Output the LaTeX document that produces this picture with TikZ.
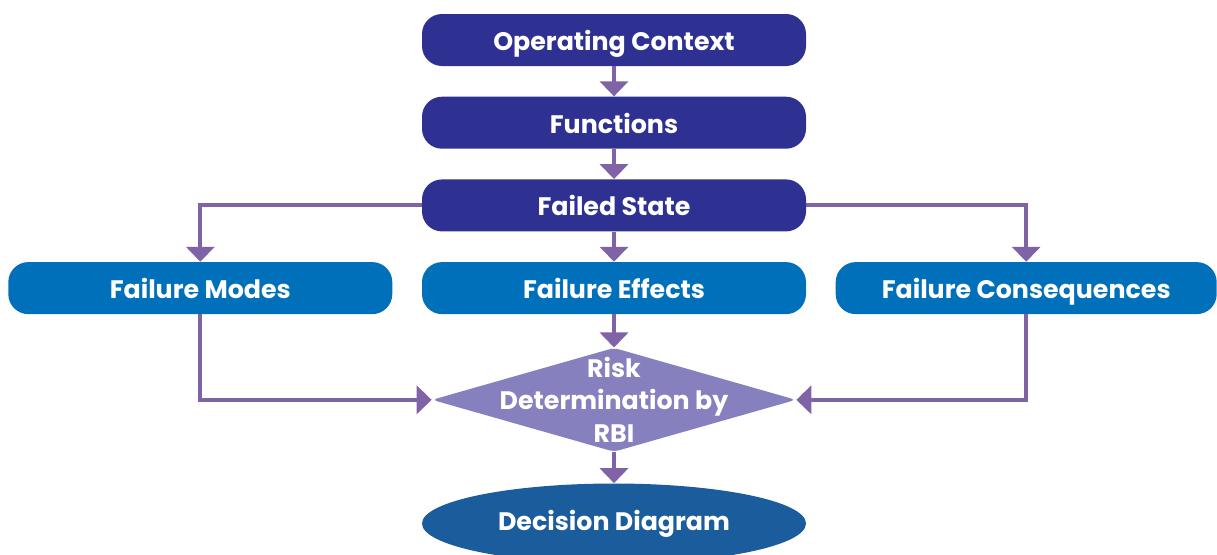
\documentclass[tikz,border=0pt]{standalone}
\usepackage{fontspec}
\setsansfont{Poppins}
\usetikzlibrary{arrows.meta, positioning, shapes.geometric}
\definecolor{cnavy}{HTML}{2E3192}
\definecolor{cblue}{HTML}{0070BA}
\definecolor{clilac}{HTML}{8780BE}
\definecolor{cdeep}{HTML}{1B5C9C}
\definecolor{cpurple}{HTML}{7F63A6}
\tikzset{
  every picture/.style={font=\sffamily\bfseries\fontsize{14.4}{17.5}\selectfont},
  box/.style={fill=#1, text=white, rounded corners=0.4cm, minimum width=7.68cm, minimum height=1.04cm,
    inner sep=0pt, text height=13pt, text depth=1pt},
  box/.default=cnavy,
  arrow/.style={-{Triangle[width=0.56cm, length=0.3cm]}, draw=cpurple, line width=2.3pt},
  riskbox/.style={diamond, fill=clilac, minimum width=7.28cm, minimum height=2.08cm, inner sep=0pt, rounded corners=3pt},
  risktext/.style={text=white, align=center, font=\sffamily\bfseries\fontsize{14.4}{18.6}\selectfont},
  endbox/.style={ellipse, fill=cdeep, text=white, minimum width=7.68cm, minimum height=1.6cm, inner sep=0pt},
}

\begin{document}
\begin{tikzpicture}[node distance=0.6cm]
  \clip (0,0) rectangle (24.34,-11.08);
  \node[box] (context) at (12.28,-0.8) {Operating Context};
  \node[box, below=of context] (functions) {Functions};
  \node[box, below=of functions] (state) {Failed State};
  \node[box=cblue, below=0.6cm of state] (effects) {Failure Effects};
  \node[box=cblue, left=0.58cm of effects] (modes) {Failure Modes};
  \node[box=cblue, right=0.58cm of effects, minimum width=7.62cm] (conseq) {Failure Consequences};
  \node[riskbox, below=0.66cm of effects,
        label={[risktext]center:Risk\\Determination by\\RBI}] (risk) {};
  \node[endbox, below=0.62cm of risk] (decision) {Decision Diagram};
  \draw[arrow] (context) -- (functions);
  \draw[arrow] (functions) -- (state);
  \draw[arrow] (state) -- (effects);
  \draw[arrow] (state.west) -| (modes.north);
  \draw[arrow] (state.east) -| (conseq.north);
  \draw[arrow] (effects) -- (risk);
  \draw[arrow] (modes.south) |- (risk.west);
  \draw[arrow] (conseq.south) |- (risk.east);
  \draw[arrow] (risk) -- (decision);
\end{tikzpicture}
\end{document}
